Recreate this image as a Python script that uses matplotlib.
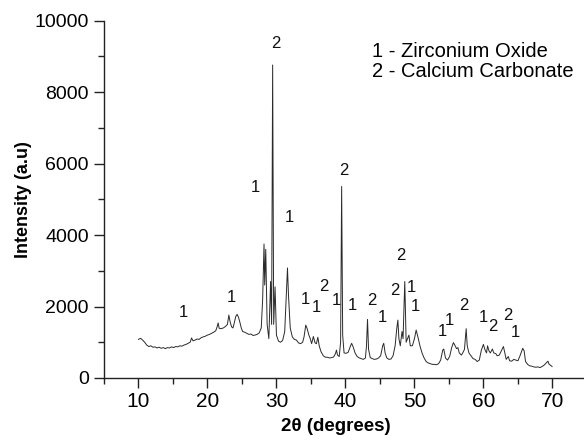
import matplotlib
matplotlib.use("Agg")
import matplotlib.pyplot as plt
from matplotlib.ticker import MultipleLocator

plt.rcParams['font.family'] = ['Liberation Sans', 'DejaVu Sans']

# XRD pattern (2theta in degrees, intensity in a.u.)
two_theta = [
    10.0, 10.3, 10.6, 10.9, 11.2, 11.5, 11.8, 12.1, 12.4, 12.7, 13.0, 13.3, 13.6,
    13.9, 14.2, 14.5, 14.8, 15.1, 15.4, 15.7, 16.0, 16.3, 16.6, 16.9, 17.2, 17.5,
    17.7, 17.9, 18.2, 18.5, 18.8, 19.1, 19.4, 19.7, 20.0, 20.3, 20.6, 20.9, 21.2,
    21.4, 21.55, 21.7, 22.0, 22.3, 22.6, 22.9, 23.1, 23.3, 23.5, 23.7, 23.9, 24.1,
    24.3, 24.5, 24.7, 24.9, 25.1, 25.4, 25.7, 26.0, 26.3, 26.6, 26.9, 27.2, 27.5,
    27.8, 28.0, 28.2, 28.3, 28.45, 28.65, 28.9, 29.15, 29.3, 29.45, 29.6, 29.8,
    30.0, 30.3, 30.6, 30.9, 31.2, 31.45, 31.6, 31.75, 32.0, 32.3, 32.6, 32.9, 33.2,
    33.5, 33.8, 34.0, 34.25, 34.45, 34.7, 34.9, 35.1, 35.35, 35.6, 35.8, 36.0,
    36.2, 36.45, 36.8, 37.1, 37.4, 37.7, 38.0, 38.3, 38.55, 38.7, 38.85, 39.1,
    39.3, 39.45, 39.6, 39.8, 40.1, 40.4, 40.7, 40.9, 41.1, 41.4, 41.7, 42.0, 42.3,
    42.6, 42.9, 43.05, 43.2, 43.35, 43.6, 43.9, 44.2, 44.5, 44.8, 45.1, 45.4,
    45.55, 45.75, 46.0, 46.3, 46.6, 46.9, 47.2, 47.45, 47.6, 47.75, 47.95, 48.2,
    48.35, 48.6, 48.8, 49.0, 49.2, 49.4, 49.7, 50.0, 50.25, 50.5, 50.8, 51.1,
    51.4, 51.7, 52.0, 52.3, 52.6, 52.9, 53.2, 53.5, 53.8, 54.1, 54.25, 54.5, 54.8,
    55.1, 55.4, 55.65, 55.9, 56.1, 56.3, 56.5, 56.8, 57.0, 57.25, 57.5, 57.65,
    57.9, 58.2, 58.5, 58.8, 59.1, 59.4, 59.7, 60.0, 60.2, 60.45, 60.6, 60.8, 61.0,
    61.3, 61.5, 61.8, 62.0, 62.3, 62.6, 62.9, 63.1, 63.3, 63.6, 63.8, 64.1, 64.4,
    64.7, 65.0, 65.3, 65.7, 65.9, 66.1, 66.4, 66.7, 67.0, 67.3, 67.6, 67.9, 68.2,
    68.5, 68.8, 69.1, 69.35, 69.5, 69.7, 69.95,
]
intensity = [
    1080, 1110, 1060, 1000, 920, 880, 900, 860, 870, 840, 860, 830, 850,
    820, 850, 840, 870, 850, 880, 870, 900, 890, 920, 940, 970, 1000,
    1120, 1040, 1060, 1090, 1080, 1130, 1150, 1170, 1200, 1220, 1250, 1280, 1320,
    1430, 1540, 1390, 1380, 1400, 1440, 1500, 1760, 1560, 1430, 1400, 1550, 1720,
    1780, 1700, 1560, 1400, 1300, 1280, 1250, 1220, 1230, 1190, 1200, 1220, 1260,
    1400, 2200, 3750, 2600, 3600, 1500, 1100, 2700, 1500, 8760, 1500, 2550,
    1200, 1030, 1000, 1050, 1300, 2400, 3080, 2300, 1400, 1150, 1080, 1060, 980,
    960, 1000, 1150, 1480, 1380, 1200, 1100, 960, 1160, 980, 960, 1140,
    900, 740, 620, 580, 580, 560, 570, 590, 680, 780, 640, 600,
    1000, 5360, 1200, 700, 690, 720, 880, 970, 880, 700, 600, 560, 540,
    520, 560, 900, 1640, 800, 570, 540, 520, 530, 560, 620, 900,
    970, 700, 560, 520, 530, 620, 900, 1400, 1620, 1100, 900, 1300,
    1100, 2700, 1000, 1100, 1200, 900, 900, 1100, 1340, 1150, 900, 700,
    560, 460, 420, 400, 380, 380, 370, 400, 500, 780, 810, 560, 500,
    600, 850, 990, 900, 820, 850, 700, 640, 700, 800, 1380, 900,
    700, 620, 540, 520, 460, 500, 780, 940, 800, 700, 900, 760, 700,
    810, 700, 680, 620, 640, 760, 880, 700, 520, 600, 480, 470, 520,
    500, 480, 620, 830, 760, 460, 380, 340, 330, 310, 300, 310, 290,
    320, 360, 420, 470, 390, 360, 320,
]

# phase labels above peaks: 1 = ZrO2, 2 = CaCO3
label_x = [16.5, 23.5, 27.0, 29.85, 31.9, 34.2, 35.8, 36.8, 38.7, 39.7, 41.0,
           43.8, 45.4, 47.1, 48.0, 49.6, 50.1, 54.1, 55.1, 57.1, 60.0, 61.4,
           63.6, 64.6]
label_y = [1820, 2240, 5320, 9350, 4480, 2210, 1960, 2550, 2180, 5820, 2040,
           2180, 1680, 2460, 3440, 2520, 1990, 1290, 1620, 2040, 1680, 1430,
           1760, 1260]
label_txt = ["1", "1", "1", "2", "1", "1", "1", "2", "1", "2", "1",
             "2", "1", "2", "2", "1", "1", "1", "1", "2", "1", "2",
             "2", "1"]

legend_lines = ["1 - Zirconium Oxide", "2 - Calcium Carbonate"]

fig = plt.figure(figsize=(5.84, 4.40), dpi=100)
ax = fig.add_axes([0.178, 0.141, 0.827, 0.812])

ax.plot(two_theta, intensity, color="#2a2a2a", lw=0.7)

for x, y, t in zip(label_x, label_y, label_txt):
    ax.text(x, y, t, ha="center", va="center", fontsize=12, color="#111111")

ax.text(43.9, 9150, legend_lines[0], ha="left", va="center", fontsize=14.5)
ax.text(43.9, 8590, legend_lines[1], ha="left", va="center", fontsize=14.5)

ax.set_xlim(5, 75)
ax.set_ylim(0, 10000)
ax.xaxis.set_major_locator(MultipleLocator(10))
ax.xaxis.set_minor_locator(MultipleLocator(5))
ax.yaxis.set_major_locator(MultipleLocator(2000))
ax.yaxis.set_minor_locator(MultipleLocator(1000))

ax.spines["top"].set_visible(False)
ax.spines["right"].set_visible(False)
for s in ["left", "bottom"]:
    ax.spines[s].set_linewidth(1.0)
    ax.spines[s].set_color("#222222")

ax.tick_params(axis="both", which="major", direction="out", length=7, width=1.0,
               color="#222222")
ax.tick_params(axis="both", which="minor", direction="out", length=4, width=1.0,
               color="#222222")
ax.tick_params(axis="x", labelsize=15, pad=3)
ax.tick_params(axis="y", labelsize=14, pad=4)

ax.set_xlabel("2θ (degrees)", fontsize=13.5, fontweight="bold")
ax.set_ylabel("Intensity (a.u)", fontsize=13, fontweight="bold", labelpad=2)
ax.xaxis.set_label_coords(0.48, -0.113)

fig.savefig("out.png", dpi=100)
